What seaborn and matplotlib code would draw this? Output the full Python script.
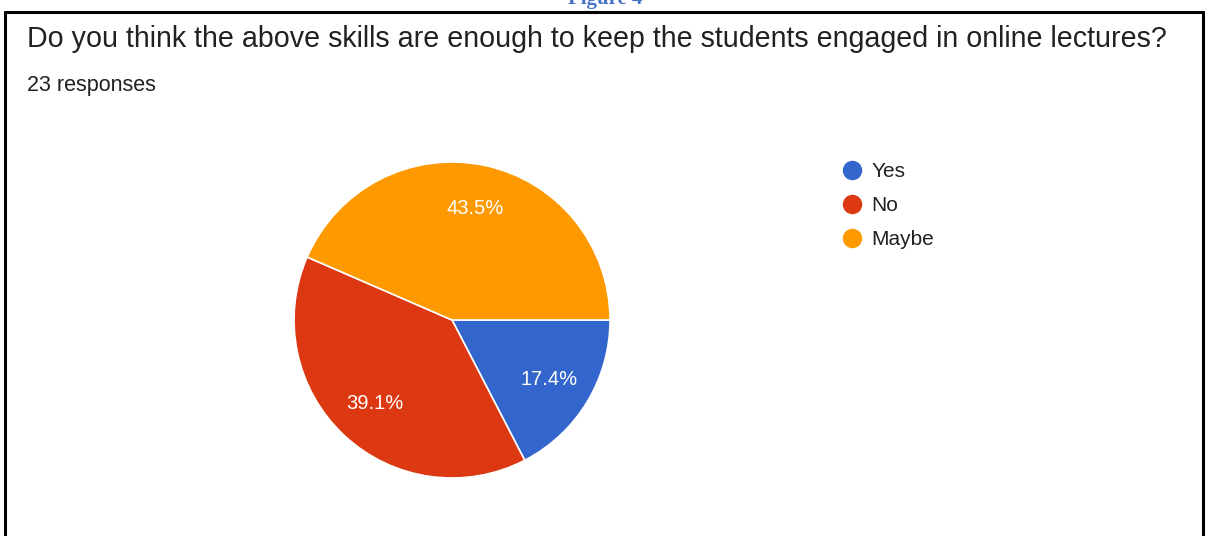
import matplotlib
matplotlib.use("Agg")
import matplotlib.pyplot as plt
from matplotlib.lines import Line2D
import seaborn as sns

# survey answers (23 responses)
answers = ["Yes", "No", "Maybe"]
counts = [4, 9, 10]
colors = ["#3366CC", "#DC3912", "#FF9900"]
title = "Do you think the above skills are enough to keep the students engaged in online lectures?"
subtitle = "23 responses"

sns.set_theme(style="white")
plt.rcParams['font.family'] = ['Liberation Sans', 'DejaVu Sans']

fig = plt.figure(figsize=(12.09, 5.36), dpi=100)
fig.patch.set_facecolor("white")

# pie axes, square, placed like the google forms card
ax = fig.add_axes([0.2432, 0.1082, 0.2614, 0.5896])
wedges, texts, autotexts = ax.pie(
    counts, colors=colors, startangle=0, counterclock=False,
    autopct="%.1f%%", pctdistance=0.72,
    wedgeprops=dict(edgecolor="white", linewidth=1.2),
    textprops=dict(color="white", fontsize=14.5),
)
ax.set_xlim(-1.0, 1.0)
ax.set_ylim(-1.0, 1.0)
ax.set_aspect("equal")

# header texts
fig.text(27 / 1209, 1 - 39 / 536, title, fontsize=20.6, color="#202124", va="center", ha="left")
fig.text(27 / 1209, 1 - 86 / 536, subtitle, fontsize=15.5, color="#202124", va="center", ha="left")

# caption cut off at the top
fig.text(605 / 1209, 1 - 4 / 536, "Figure 4", fontsize=15, color="#4472C4",
         fontweight="bold", family=["Liberation Serif", "DejaVu Serif"],
         ha="center", va="baseline")

# legend
handles = [Line2D([0], [0], marker="o", linestyle="", markersize=13,
                  markerfacecolor=c, markeredgecolor=c) for c in colors]
leg = fig.legend(handles, answers, loc="upper left", bbox_to_anchor=(842 / 1209, 1 - 162 / 536),
                 frameon=False, fontsize=15, handletextpad=0.4, labelspacing=0.72,
                 handlelength=1.0, borderaxespad=0, borderpad=0)
for t in leg.get_texts():
    t.set_color("#202124")

# card border (top, left, right)
lw = 2.2
fig.add_artist(Line2D([5 / 1209, 1203 / 1209], [1 - 12 / 536, 1 - 12 / 536], color="black", lw=lw))
fig.add_artist(Line2D([5 / 1209, 5 / 1209], [0, 1 - 12 / 536], color="black", lw=lw))
fig.add_artist(Line2D([1203 / 1209, 1203 / 1209], [0, 1 - 12 / 536], color="black", lw=lw))

fig.savefig("out.png", dpi=100)
